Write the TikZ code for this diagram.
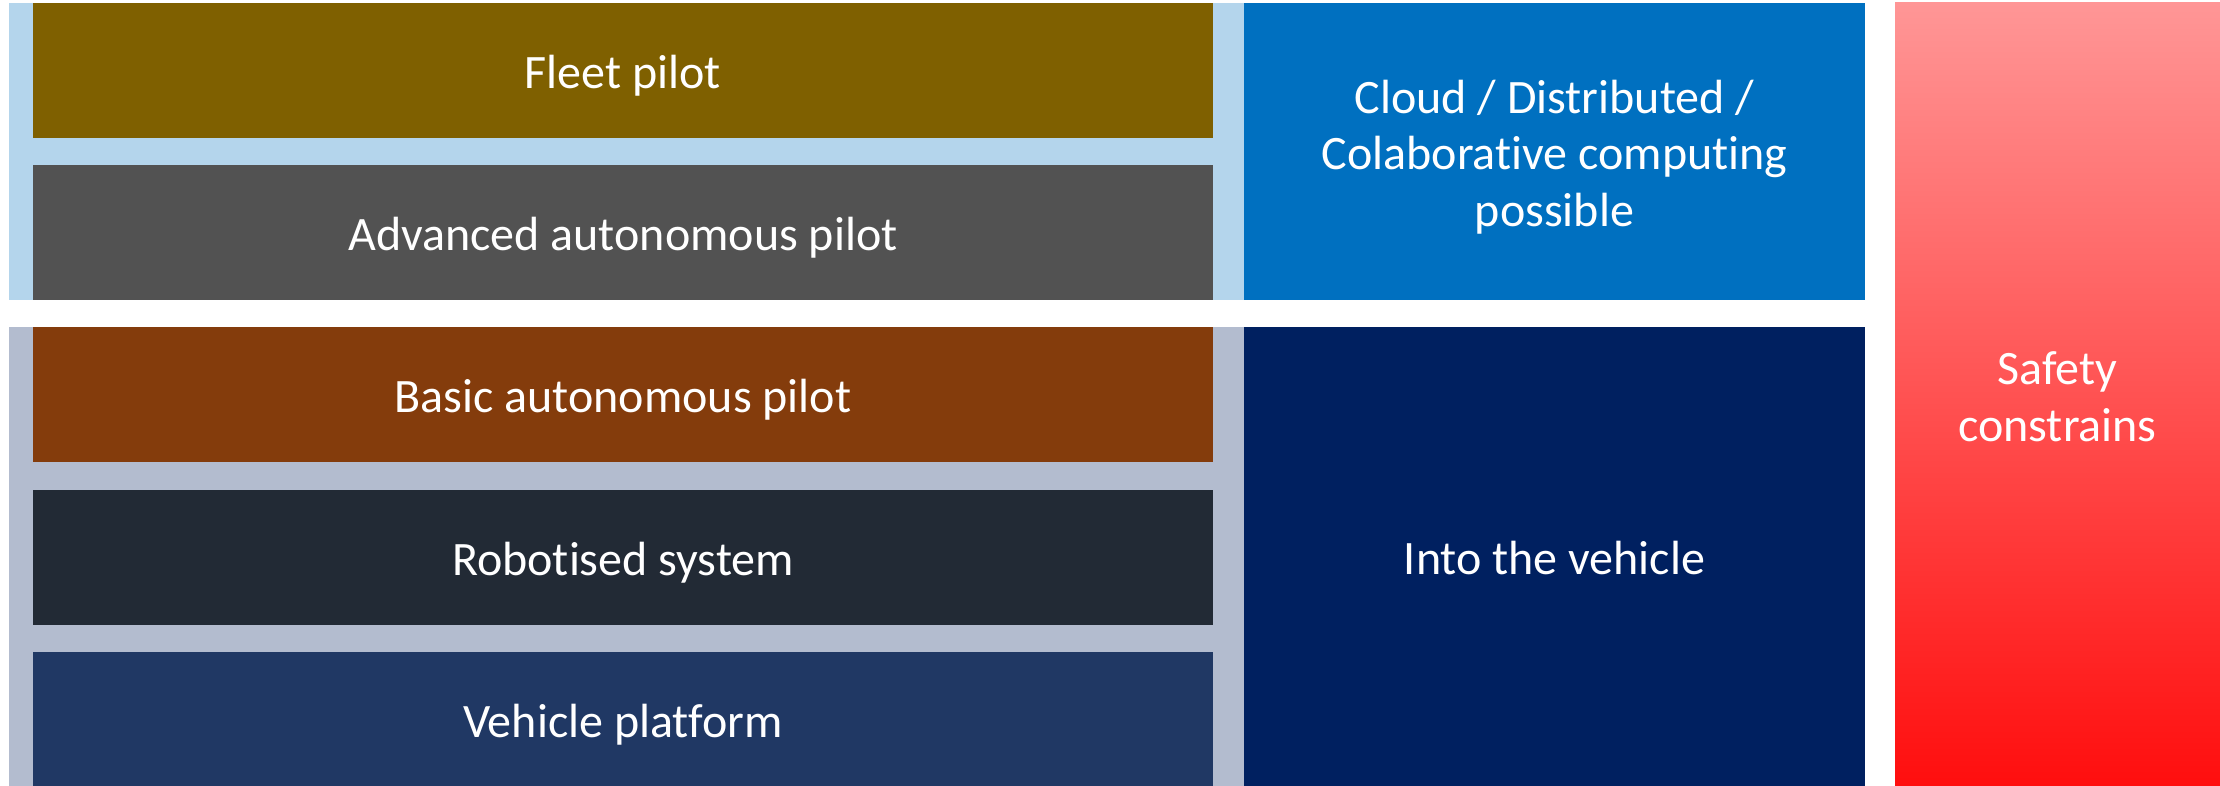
\documentclass[tikz,border=0pt]{standalone}
\usepackage{fontspec}
\setmainfont[Ligatures=NoCommon]{Carlito}
\definecolor{cOlive}{HTML}{7F6000}
\definecolor{cGray}{HTML}{525252}
\definecolor{cBrown}{HTML}{843C0C}
\definecolor{cDark}{HTML}{222A35}
\definecolor{cVeh}{HTML}{203864}
\definecolor{cNavy}{HTML}{002060}
\definecolor{cBlue}{HTML}{0070C0}
\definecolor{cLightBlue}{HTML}{B4D5EC}
\definecolor{cLightGray}{HTML}{B3BCCF}
\definecolor{cRedTop}{HTML}{FF9696}
\definecolor{cRedBot}{HTML}{FF0E0E}
\newcommand{\lowtxt}[1]{\raisebox{-3.5pt}[\height][\depth]{\begin{tabular}{@{}c@{}}#1\end{tabular}}}
\begin{document}
\begin{tikzpicture}[x=0.5pt,y=-0.5pt,
  box/.style={anchor=north west, inner sep=0pt, outer sep=0pt, draw=none,
    text=white, align=center,
    font=\fontsize{24}{28.3}\selectfont},
  bar/.style={box, minimum width=590pt, minimum height=67.5pt}]
\useasboundingbox (0,0) rectangle (2220,786);
% panels
\node[box, fill=cLightBlue, minimum width=617.5pt, minimum height=148.5pt] (upperpanel) at (9,3) {};
\node[box, fill=cLightGray, minimum width=617.5pt, minimum height=229.5pt] (lowerpanel) at (9,327) {};
% bars
\node[bar, fill=cOlive] (fleet) at (33,3) {\lowtxt{Fleet pilot}};
\node[bar, fill=cGray] (adv) at (33,165) {\lowtxt{Advanced autonomous pilot}};
\node[bar, fill=cBrown] (basic) at (33,327) {\lowtxt{Basic autonomous pilot}};
\node[bar, fill=cDark] (robot) at (33,490) {\lowtxt{Robotised system}};
\node[bar, fill=cVeh, minimum height=67pt] (veh) at (33,652) {\lowtxt{Vehicle platform}};
% right boxes
\node[box, fill=cBlue, minimum width=310.5pt, minimum height=148.5pt] (cloud) at (1244,3) {\lowtxt{Cloud / Distributed /\\Colaborative computing\\possible}};
\node[box, fill=cNavy, minimum width=310.5pt, minimum height=229.5pt] (into) at (1244,327) {\lowtxt{Into the vehicle}};
\node[box, top color=cRedTop, bottom color=cRedBot, minimum width=162.5pt, minimum height=391.5pt] (safety) at (1895,3) {\lowtxt{Safety\\constrains}};
\end{tikzpicture}
\end{document}
